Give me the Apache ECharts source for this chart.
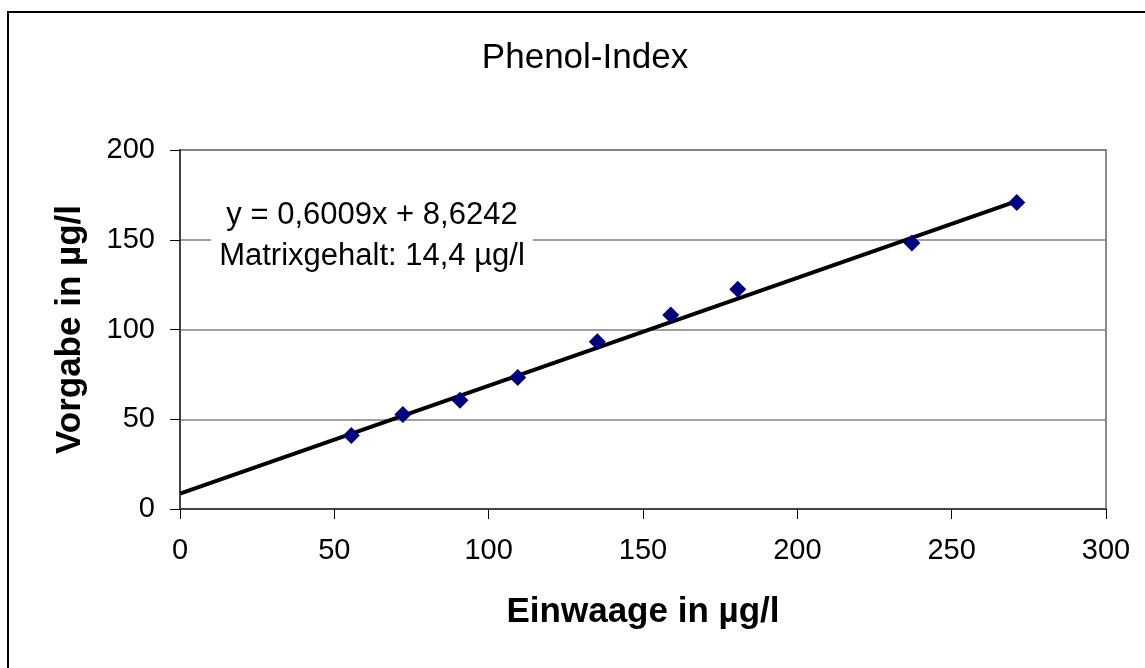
<!DOCTYPE html>
<html>
<head>
<meta charset="utf-8">
<script src="https://cdn.jsdelivr.net/npm/echarts@6/dist/echarts.min.js"></script>
<style>
html,body{margin:0;padding:0;background:#fff;}
#chart{width:1145px;height:668px;}
</style>
</head>
<body>
<div id="chart"></div>
<script>
// Data
const einwaage = [55.5, 72.2, 90.7, 109.4, 135.2, 159.0, 180.7, 237.1, 271.1];
const vorgabe  = [40.9, 52.7, 60.6, 73.3, 93.2, 108.1, 122.4, 148.2, 170.8];
const trendX = [0, 271.1];
const trendY = [8.6, 171.5];
const titleText = 'Phenol-Index';
const xTitle = 'Einwaage in µg/l';
const yTitle = 'Vorgabe in µg/l';
const annotationLines = ['y = 0,6009x + 8,6242', 'Matrixgehalt: 14,4 µg/l'];

const FONT = "'Liberation Sans', Arial, Helvetica, sans-serif";
const chart = echarts.init(document.getElementById('chart'), null, {renderer: 'canvas'});

const points = einwaage.map((x, i) => [x, vorgabe[i]]);
const trend = trendX.map((x, i) => [x, trendY[i]]);

chart.setOption({
  animation: false,
  backgroundColor: '#ffffff',
  grid: {left: 180, top: 150, right: 39, bottom: 159, show: true, borderColor: '#8c8c8c', borderWidth: 2, backgroundColor: 'transparent'},
  xAxis: {
    type: 'value', min: 0, max: 300, interval: 50,
    name: xTitle, nameLocation: 'middle', nameGap: 86,
    nameTextStyle: {fontFamily: FONT, fontSize: 35, fontWeight: 'bold', color: '#000'},
    axisLine: {show: true, onZero: false, lineStyle: {color: '#444', width: 2}},
    axisTick: {show: true, inside: false, length: 10, lineStyle: {color: '#000', width: 1}},
    axisLabel: {fontFamily: FONT, fontSize: 29, color: '#000', margin: 27},
    splitLine: {show: false}
  },
  yAxis: {
    type: 'value', min: 0, max: 200, interval: 50,
    name: yTitle, nameLocation: 'middle', nameGap: 92,
    nameTextStyle: {fontFamily: FONT, fontSize: 35, fontWeight: 'bold', color: '#000'},
    axisLine: {show: true, onZero: false, lineStyle: {color: '#444', width: 2}},
    axisTick: {show: true, inside: false, length: 10, lineStyle: {color: '#000', width: 1}},
    axisLabel: {fontFamily: FONT, fontSize: 29, color: '#000', margin: 25},
    splitLine: {show: true, lineStyle: {color: '#808080', width: 1.5}}
  },
  series: [
    {
      type: 'line', data: trend, symbol: 'none', z: 3,
      lineStyle: {color: '#000', width: 4}
    },
    {
      type: 'scatter', data: points, symbol: 'diamond', symbolSize: [17, 17], z: 4,
      itemStyle: {color: '#000080', opacity: 1}
    }
  ],
  graphic: [
    {type: 'rect', z: -10, silent: true, shape: {x: 8, y: 12, width: 1200, height: 700},
     style: {fill: 'none', stroke: '#000', lineWidth: 2}},
    {type: 'text', z: 50, silent: true,
     x: 585, y: 58,
     style: {text: titleText, font: '35px ' + FONT, fill: '#000', textAlign: 'center', textVerticalAlign: 'middle'}},
    {type: 'text', z: 50, silent: true,
     x: 372, y: 236,
     style: {text: annotationLines.join('\n'), font: '31px ' + FONT, lineHeight: 41, fill: '#000',
             textAlign: 'center', textVerticalAlign: 'middle', backgroundColor: '#fff', padding: [4, 8]}}
  ]
});
</script>
</body>
</html>
